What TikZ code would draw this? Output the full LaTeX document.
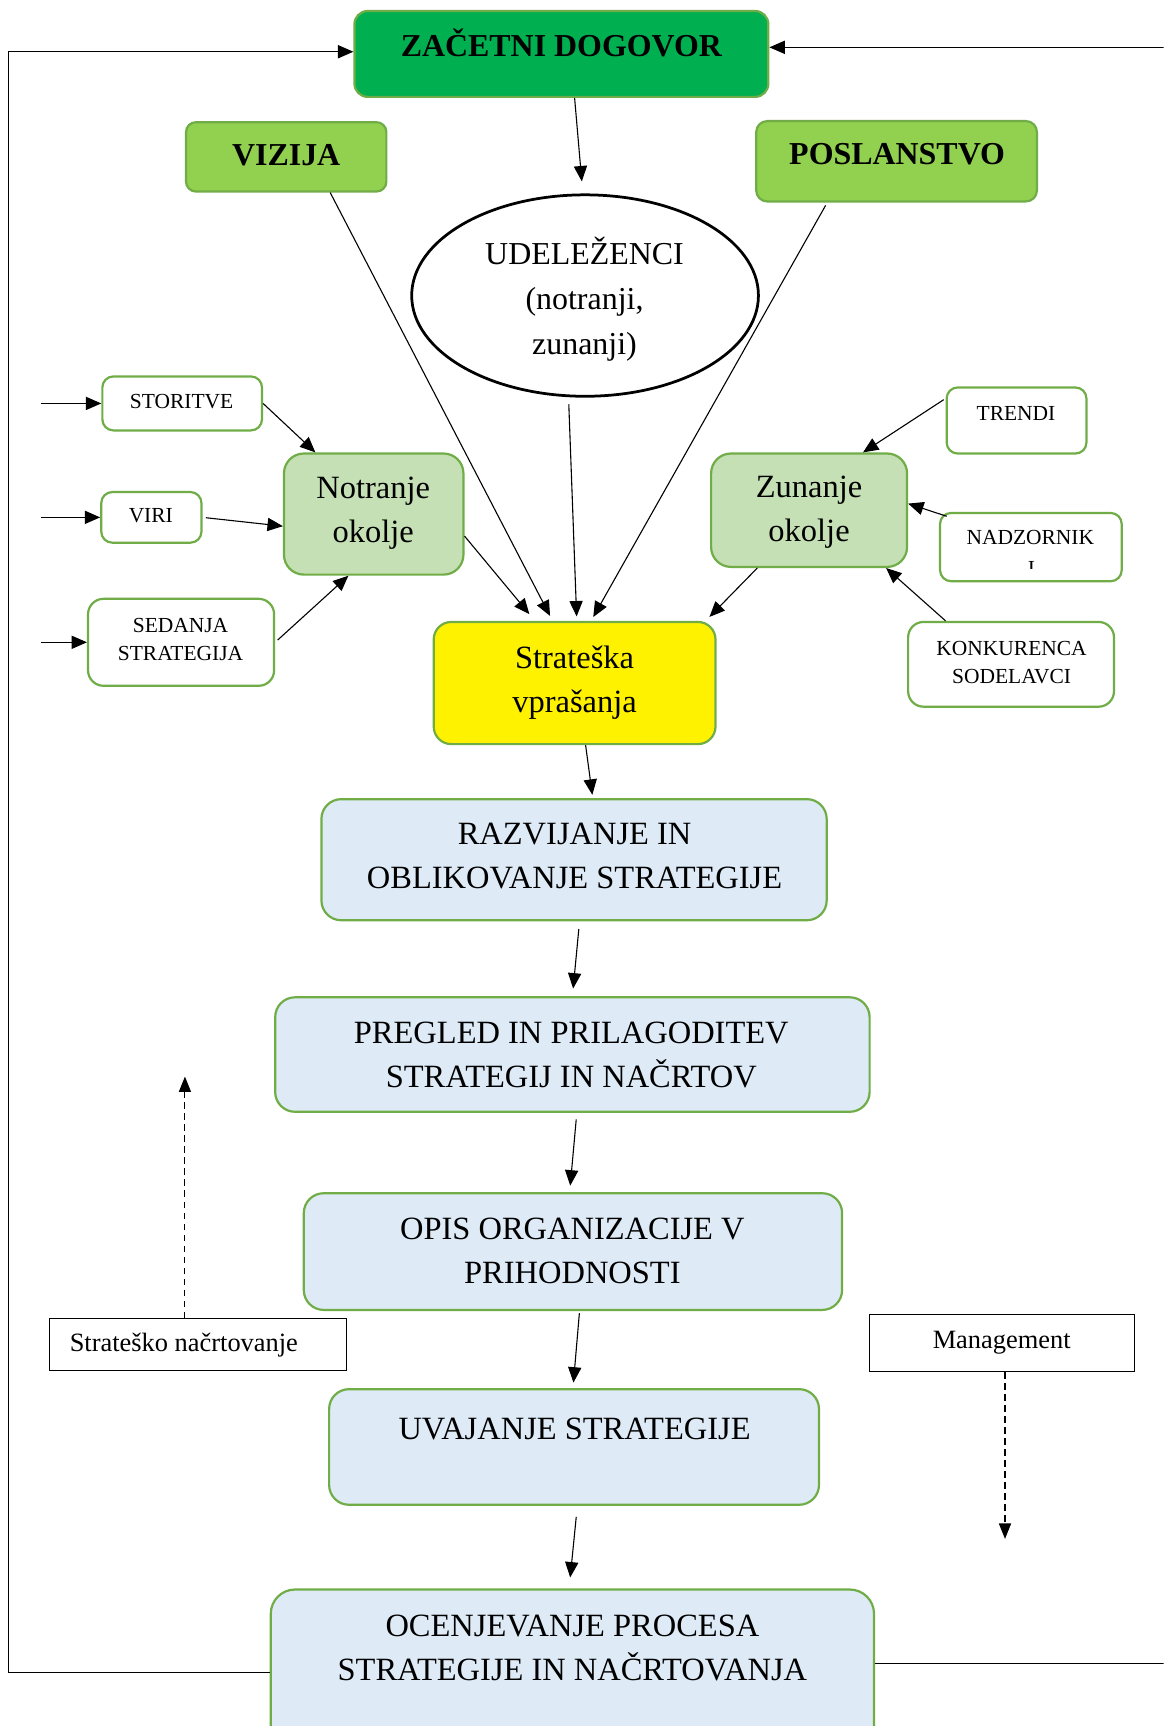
\documentclass[tikz,border=0pt]{standalone}
\usepackage{fontspec}
\setmainfont{Liberation Serif}
\usetikzlibrary{arrows.meta,shapes.geometric}
\definecolor{gb}{HTML}{70AD47}
\definecolor{dkg}{HTML}{00B050}
\definecolor{lgr}{HTML}{92D050}
\definecolor{pgr}{HTML}{C5E0B4}
\definecolor{lbl}{HTML}{DEEBF7}
\tikzset{
  gbox/.style={draw=gb, line width=2pt, rounded corners=12pt, inner sep=0pt},
  sbox/.style={draw=gb, line width=2pt, rounded corners=10pt, inner sep=0pt, fill=white},
  plainbox/.style={draw=black, line width=1pt, inner sep=0pt, fill=white},
  arr/.style={line width=1pt, -{Triangle[length=14pt,width=12pt]}},
  dasharr/.style={line width=1pt, dash pattern=on 6pt off 4pt, -{Triangle[length=14pt,width=11pt]}},
  bigtxt/.style={font=\fontsize{29.5}{40}\selectfont, align=center, inner sep=0pt},
  boldtxt/.style={font=\bfseries\fontsize{29}{36}\selectfont, inner sep=0pt},
  smalltxt/.style={font=\fontsize{19.5}{26}\selectfont, align=center, inner sep=0pt},
  midtxt/.style={font=\fontsize{24}{30}\selectfont, inner sep=0pt},
}
\begin{document}
\begin{tikzpicture}[x=1pt,y=-1pt]
\useasboundingbox (0,0) rectangle (1057,1568);
\clip (0,0) rectangle (1057,1568);
\fill[white] (0,0) rectangle (1057,1568);

% boxes
\node[gbox, fill=dkg, minimum width=376pt, minimum height=78pt] (zac) at (510,49) {};
\node[gbox, fill=lgr, rounded corners=9pt, minimum width=182pt, minimum height=63pt] (viz) at (260,142.5) {};
\node[gbox, fill=lgr, rounded corners=10pt, minimum width=255pt, minimum height=73pt] (pos) at (814.5,146.5) {};
\node[draw=black, line width=2.5pt, ellipse, inner sep=0pt, minimum width=315pt, minimum height=183pt] (udel) at (531.5,268.5) {};
\node[sbox, minimum width=145pt, minimum height=49pt] (stor) at (165.5,366.5) {};
\node[sbox, minimum width=91pt, minimum height=46pt] (viri) at (137.5,470) {};
\node[sbox, rounded corners=14pt, minimum width=169pt, minimum height=79pt] (sed) at (164.5,583.5) {};
\node[gbox, fill=pgr, rounded corners=18pt, minimum width=163pt, minimum height=110pt] (not) at (339.5,467) {};
\node[gbox, fill=pgr, rounded corners=18pt, minimum width=178pt, minimum height=103pt] (zun) at (735,463.5) {};
\node[sbox, minimum width=127pt, minimum height=60pt] (trendi) at (923.5,382) {};
\node[sbox, minimum width=165pt, minimum height=62pt] (nadz) at (936.5,497) {};
\node[sbox, rounded corners=14pt, minimum width=187pt, minimum height=77pt] (konk) at (918.5,603.5) {};
\node[gbox, fill=yellow, rounded corners=16pt, minimum width=256pt, minimum height=111pt] (sv) at (522,620.5) {};
\node[gbox, fill=lbl, rounded corners=18pt, minimum width=459pt, minimum height=110pt] (raz) at (521.5,781) {};
\node[gbox, fill=lbl, rounded corners=18pt, minimum width=540pt, minimum height=104pt] (preg) at (520,958) {};
\node[gbox, fill=lbl, rounded corners=18pt, minimum width=489pt, minimum height=106pt] (opis) at (520.5,1137) {};
\node[gbox, fill=lbl, rounded corners=18pt, minimum width=445pt, minimum height=105pt] (uvaj) at (521.5,1314.5) {};
\node[gbox, fill=lbl, rounded corners=22pt, minimum width=548pt, minimum height=156pt] (ocen) at (520,1522) {};
\node[plainbox, minimum width=270pt, minimum height=47pt] (strat) at (180,1221.5) {};
\node[plainbox, minimum width=241pt, minimum height=52pt] (mgmt) at (910.5,1220) {};

% texts
\node[boldtxt, anchor=base] (zac-t) at (510,51) {ZAČETNI DOGOVOR};
\node[boldtxt, anchor=base] (viz-t) at (260,150) {VIZIJA};
\node[boldtxt, anchor=base] (pos-t) at (815,149.5) {POSLANSTVO};
\node[bigtxt, font=\fontsize{29}{41}\selectfont] (udel-t) at (531,272) {UDELEŽENCI\\(notranji,\\zunanji)};
\node[smalltxt, anchor=base] (stor-t) at (165,371) {STORITVE};
\node[smalltxt, anchor=base] (viri-t) at (137,475) {VIRI};
\node[smalltxt] (sed-t) at (164,581) {SEDANJA\\STRATEGIJA};
\node[bigtxt] (not-t) at (339,466) {Notranje\\okolje};
\node[bigtxt] (zun-t) at (735,465) {Zunanje\\okolje};
\node[smalltxt, anchor=base] (trendi-t) at (923,382) {TRENDI};
\node[smalltxt, anchor=base] (nadz-t) at (936,495) {NADZORNIK};
\begin{scope}
  \clip (900,500) rectangle (970,516);
  \node[smalltxt, anchor=base] (nadz-i) at (937,523) {I};
\end{scope}
\node[smalltxt] (konk-t) at (919,602) {KONKURENCA\\SODELAVCI};
\node[bigtxt] (sv-t) at (522,620) {Strateška\\vprašanja};
\node[bigtxt] (raz-t) at (522,778) {RAZVIJANJE IN\\OBLIKOVANJE STRATEGIJE};
\node[bigtxt] (preg-t) at (519,958) {PREGLED IN PRILAGODITEV\\STRATEGIJ IN NAČRTOV};
\node[bigtxt] (opis-t) at (520,1136) {OPIS ORGANIZACIJE V\\PRIHODNOSTI};
\node[bigtxt, anchor=base] (uvaj-t) at (522,1308) {UVAJANJE STRATEGIJE};
\node[bigtxt] (ocen-t) at (520,1497) {OCENJEVANJE PROCESA\\STRATEGIJE IN NAČRTOVANJA};
\node[midtxt, anchor=base] (strat-t) at (167,1228) {Strateško načrtovanje};
\node[midtxt, anchor=base] (mgmt-t) at (910,1225) {Management};

% free ends
\coordinate (lb) at (8,1519);
\coordinate (lt) at (8,47);
\coordinate (rb) at (1057,1511);
\coordinate (rt) at (1057,43);
\coordinate (s1) at (37,366.5);
\coordinate (s2) at (37,470);
\coordinate (s3) at (37,583.5);
\coordinate (up) at (168,978);
\coordinate (down) at (913,1398);

% feedback loop
\draw[arr] (ocen.west |- lb) -- (lb) -- (lt) -- (zac.west |- lt);
\draw[line width=1pt] (ocen.east |- rb) -- (rb);
\draw[arr] (rt) -- (zac.east |- rt);

% top arrows
\draw[arr, shorten >=11pt] ([xshift=12pt]zac.south) -- ([xshift=-2pt]udel.north);
\draw[arr, shorten >=5pt] ([xshift=40pt]viz.south) -- ([xshift=-20pt]sv.north);
\draw[arr, shorten <=3pt, shorten >=4pt] ([xshift=-63pt]pos.south) -- ([xshift=15pt]sv.north);
\draw[arr, shorten <=6pt, shorten >=4pt] ([xshift=-15pt]udel.south) -- ([xshift=2pt]sv.north);
\draw[arr, shorten >=8pt] ([yshift=-20pt]not.east) -- ([xshift=-36pt]sv.north);
\draw[arr, shorten >=5pt] ([xshift=-47pt]zun.south) -- ([xshift=-10pt]sv.north east);

% left inputs
\draw[arr] (s1) -- (stor.west);
\draw[arr] (s2) -- (viri.west);
\draw[arr] (s3) -- (sed.west);
\draw[arr] (stor.east) -- ([xshift=-53pt]not.north);
\draw[arr, shorten <=3pt] (viri.east) -- ([yshift=-11pt]not.west);
\draw[arr, shorten <=3pt] (sed.east) -- ([xshift=-23pt]not.south);

% right inputs
\draw[arr, shorten <=2pt] ([yshift=20pt]trendi.west) -- ([xshift=49pt]zun.north);
\draw[arr] ([xshift=7pt,yshift=-4pt]nadz.north west) -- ([yshift=6pt]zun.east);
\draw[arr] ([xshift=35pt]konk.north west) -- ([xshift=-20pt]zun.south east);

% main flow
\draw[arr, shorten >=3pt] ([xshift=10pt]sv.south) -- ([xshift=17pt]raz.north);
\draw[arr, shorten <=7pt, shorten >=7pt] ([xshift=5pt]raz.south) -- (preg.north);
\draw[arr, shorten <=6pt, shorten >=6pt] ([xshift=4pt]preg.south) -- ([xshift=-3pt]opis.north);
\draw[arr, shorten <=2pt, shorten >=5pt] ([xshift=6pt]opis.south) -- ([xshift=-1pt]uvaj.north);
\draw[arr, shorten <=10pt, shorten >=10pt] ([xshift=3pt]uvaj.south) -- ([xshift=-3pt]ocen.north);

% dashed
\draw[dasharr] ([xshift=-12pt]strat.north) -- (up);
\draw[dasharr] ([xshift=2.5pt]mgmt.south) -- (down);
\end{tikzpicture}
\end{document}
